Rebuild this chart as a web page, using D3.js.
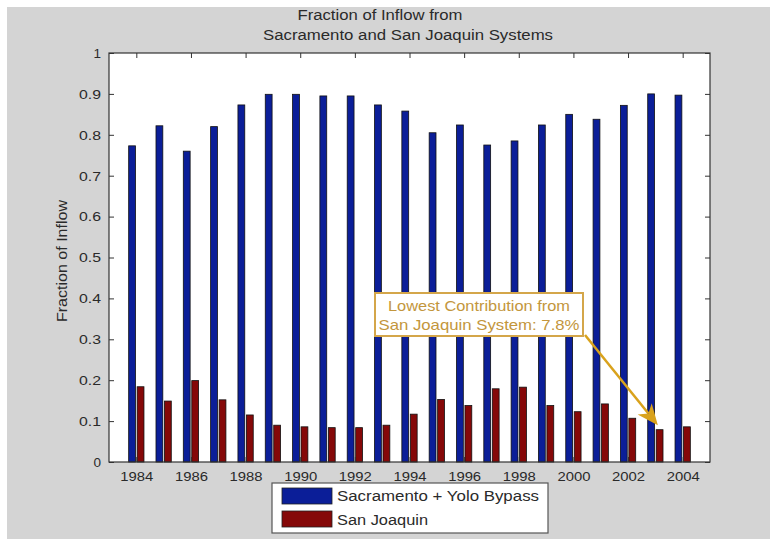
<!DOCTYPE html>
<html><head><meta charset="utf-8">
<script src="https://cdn.jsdelivr.net/npm/d3@7"></script>
<style>
html,body{margin:0;padding:0;background:#fff;}
svg{display:block;}
text{font-family:"Liberation Sans",Arial,sans-serif;}
</style></head>
<body>
<svg id="chart" width="770" height="539"></svg>
<script>
const years = [1984,1985,1986,1987,1988,1989,1990,1991,1992,1993,1994,1995,1996,1997,1998,1999,2000,2001,2002,2003,2004];
const sacramento = [0.773,0.822,0.760,0.820,0.873,0.899,0.899,0.895,0.895,0.873,0.858,0.805,0.824,0.775,0.785,0.824,0.850,0.838,0.872,0.900,0.897];
const sanJoaquin = [0.184,0.149,0.199,0.152,0.115,0.090,0.086,0.084,0.084,0.090,0.117,0.153,0.138,0.179,0.183,0.138,0.123,0.142,0.107,0.079,0.086];
const seriesNames = ["Sacramento + Yolo Bypass","San Joaquin"];
const seriesColors = ["#0b1e98","#850808"];
const xTicks = [1984,1986,1988,1990,1992,1994,1996,1998,2000,2002,2004];
const yTicks = [0,0.1,0.2,0.3,0.4,0.5,0.6,0.7,0.8,0.9,1];
const titleLines = ["Fraction of Inflow from","Sacramento and San Joaquin Systems"];
const yLabel = "Fraction of Inflow";
const noteLines = ["Lowest Contribution from","San Joaquin System: 7.8%"];
const noteYear = 2003;
const noteValue = 0.079;

const svg = d3.select("#chart");
svg.append("rect").attr("x",7).attr("y",7).attr("width",763).attr("height",532).attr("fill","#d4d4d4");

const L=109,R=710,T=53,B=462;
const x = d3.scaleLinear().domain([1983,2005]).range([L,R]);
const y = d3.scaleLinear().domain([0,1]).range([B,T]);

svg.append("rect").attr("x",L).attr("y",T).attr("width",R-L).attr("height",B-T).attr("fill","#fff");

const g = svg.append("g");
g.selectAll("rect.s").data(years).join("rect").attr("class","s")
  .attr("x",d=>x(d-0.28)).attr("width",d=>x(d-0.03)-x(d-0.28))
  .attr("y",(d,i)=>y(sacramento[i])).attr("height",(d,i)=>y(0)-y(sacramento[i]))
  .attr("fill",seriesColors[0]).attr("stroke","#111").attr("stroke-width",0.8);
g.selectAll("rect.j").data(years).join("rect").attr("class","j")
  .attr("x",d=>x(d+0.03)).attr("width",d=>x(d+0.28)-x(d+0.03))
  .attr("y",(d,i)=>y(sanJoaquin[i])).attr("height",(d,i)=>y(0)-y(sanJoaquin[i]))
  .attr("fill",seriesColors[1]).attr("stroke","#111").attr("stroke-width",0.8);

const axL = d3.axisLeft(y).tickValues(yTicks).tickSize(-5).tickPadding(8).tickFormat(d=>d===0?"0":d===1?"1":d3.format(".1f")(d));
const axR = d3.axisRight(y).tickValues(yTicks).tickSize(-5).tickFormat("");
const axB = d3.axisBottom(x).tickValues(xTicks).tickSize(-5).tickPadding(9).tickFormat(d3.format("d"));
const axT = d3.axisTop(x).tickValues(xTicks).tickSize(-5).tickFormat("");
function style(sel){
  sel.select(".domain").remove();
  sel.selectAll(".tick line").attr("stroke","#333");
  sel.selectAll(".tick text").attr("fill","#2a2a2a").style("font-size","13.5px").style("font-family","'Liberation Sans',Arial,sans-serif");
}
svg.append("g").attr("transform",`translate(${L},0)`).call(axL).call(style)
  .selectAll(".tick text").filter(d=>d>0&&d<1).attr("textLength",22).attr("lengthAdjust","spacingAndGlyphs");
svg.append("g").attr("transform",`translate(${R},0)`).call(axR).call(style);
svg.append("g").attr("transform",`translate(0,${B})`).call(axB).call(style)
  .selectAll(".tick text").attr("textLength",33).attr("lengthAdjust","spacingAndGlyphs");
svg.append("g").attr("transform",`translate(0,${T})`).call(axT).call(style);
svg.append("rect").attr("x",L).attr("y",T).attr("width",R-L).attr("height",B-T).attr("fill","none").attr("stroke","#333").attr("stroke-width",1.2);

function txt(xp,yp,s,size,len,anchor,fill){
  return svg.append("text").attr("x",xp).attr("y",yp).attr("text-anchor",anchor||"middle").attr("fill",fill||"#2a2a2a")
    .style("font-size",size+"px").attr("textLength",len).attr("lengthAdjust","spacingAndGlyphs").text(s);
}
txt(380,20,titleLines[0],15.5,165);
txt(408,40,titleLines[1],15.5,290);

svg.append("text").attr("transform","translate(67,261) rotate(-90)").attr("text-anchor","middle").attr("fill","#2a2a2a")
  .style("font-size","14.5px").attr("textLength",122).attr("lengthAdjust","spacingAndGlyphs").text(yLabel);

// annotation
const arrowCol = "#d9a21c";
const ax0 = 585, ay0 = 335;
const tipX = x(noteYear)+2.5, tipY = y(noteValue)-4.5;
const ang = Math.atan2(tipY-ay0, tipX-ax0);
const hl = 21, hw = 9, back = 15;
const bx = tipX - back*Math.cos(ang), by = tipY - back*Math.sin(ang);
svg.append("line").attr("x1",ax0).attr("y1",ay0).attr("x2",bx).attr("y2",by)
  .attr("stroke",arrowCol).attr("stroke-width",2.5);
const p = (d,w)=>[tipX - d*Math.cos(ang) - w*Math.sin(ang), tipY - d*Math.sin(ang) + w*Math.cos(ang)];
const head = [[tipX,tipY], p(hl,hw), [bx,by], p(hl,-hw)];
svg.append("path").attr("d","M"+head.map(q=>q.join(",")).join("L")+"Z").attr("fill",arrowCol);

svg.append("rect").attr("x",375).attr("y",293).attr("width",208).attr("height",43)
  .attr("fill","#fff").attr("stroke","#d4a64a").attr("stroke-width",2);
txt(479,311,noteLines[0],15,182,"middle","#c3963c");
txt(479,330,noteLines[1],15,201,"middle","#c3963c");

// legend
const lg = svg.append("g");
lg.append("rect").attr("x",272).attr("y",483).attr("width",276).attr("height",50).attr("fill","#fff").attr("stroke","#555").attr("stroke-width",1.2);
seriesNames.forEach((n,i)=>{
  lg.append("rect").attr("x",282).attr("y",488+i*23).attr("width",50).attr("height",16).attr("fill",seriesColors[i]).attr("stroke","#222").attr("stroke-width",0.8);
});
txt(337,501,seriesNames[0],15.5,202,"start","#2a2a2a");
txt(337,525,seriesNames[1],15.5,91,"start","#2a2a2a");
</script>
</body></html>
